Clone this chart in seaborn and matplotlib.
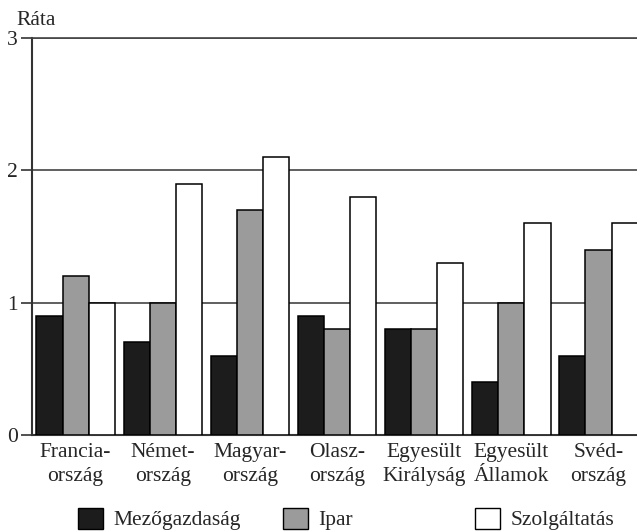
import pandas as pd
import matplotlib.pyplot as plt
import seaborn as sns
from matplotlib.patches import Patch

countries = ["Francia-\nország", "Német-\nország", "Magyar-\nország", "Olasz-\nország",
             "Egyesült\nKirályság", "Egyesült\nÁllamok", "Svéd-\nország"]
sectors = ["Mezőgazdaság", "Ipar", "Szolgáltatás"]
mezogazdasag = [0.9, 0.7, 0.6, 0.9, 0.8, 0.4, 0.6]
ipar = [1.2, 1.0, 1.7, 0.8, 0.8, 1.0, 1.4]
szolgaltatas = [1.0, 1.9, 2.1, 1.8, 1.3, 1.6, 1.6]
y_ticks = [0, 1, 2, 3]

colors = ["#1c1c1c", "#9b9b9b", "#ffffff"]

rows = []
for i, c in enumerate(countries):
    for s, vals in zip(sectors, [mezogazdasag, ipar, szolgaltatas]):
        rows.append({"orszag": c, "szektor": s, "rata": vals[i]})
df = pd.DataFrame(rows)

sns.set_style("white")
plt.rcParams["font.family"] = ["Liberation Serif", "DejaVu Serif"]
FS = 15.5

fig = plt.figure(figsize=(6.37, 5.32), dpi=100)
ax = fig.add_axes([32 / 637, 1 - 435 / 532, 610 / 637, 397 / 532])

sns.barplot(data=df, x="orszag", y="rata", hue="szektor", order=countries,
            hue_order=sectors, palette=colors, edgecolor="black", linewidth=1.1,
            width=0.9, legend=False, ax=ax, zorder=3)

ax.set_xlim(-0.5, 6.5)
ax.set_ylim(0, 3)
ax.set_yticks(y_ticks)
ax.set_yticklabels([str(t) for t in y_ticks], fontsize=FS)
ax.yaxis.grid(True, color="#444444", linewidth=1.2, zorder=0)
ax.set_axisbelow(True)

# group boundaries as major ticks, names as minor ticks
ax.set_xticks([i + 0.5 for i in range(6)])
ax.set_xticklabels([])
ax.set_xticks(range(len(countries)), minor=True)
ax.set_xticklabels(countries, minor=True, fontsize=FS, linespacing=1.3)
ax.tick_params(axis="x", which="major", direction="inout", length=10, width=1, color="#333333")
ax.tick_params(axis="x", which="minor", length=0, pad=6)
ax.tick_params(axis="y", direction="out", length=8, width=1.2, pad=2, left=True, color="#333333")

ax.set_xlabel("")
ax.set_ylabel("Ráta", rotation=0, fontsize=FS, ha="left", va="baseline")
ax.yaxis.set_label_coords(-0.026, 1.032)

ax.spines["right"].set_visible(False)
ax.spines["top"].set_color("#444444")
ax.spines["top"].set_linewidth(1.2)
for side in ["left", "bottom"]:
    ax.spines[side].set_color("#333333")
    ax.spines[side].set_linewidth(1.5)

legend_x = [78 / 637, 283 / 637, 475 / 637]
for s, col, lx in zip(sectors, colors, legend_x):
    h = Patch(facecolor=col, edgecolor="black", linewidth=1.0, label=s)
    fig.legend(handles=[h], loc="center left", bbox_to_anchor=(lx, 1 - 519 / 532),
               frameon=False, fontsize=FS, handlelength=1.15, handleheight=1.15,
               handletextpad=0.5, borderpad=0, borderaxespad=0)

fig.savefig("out.png", dpi=100)
